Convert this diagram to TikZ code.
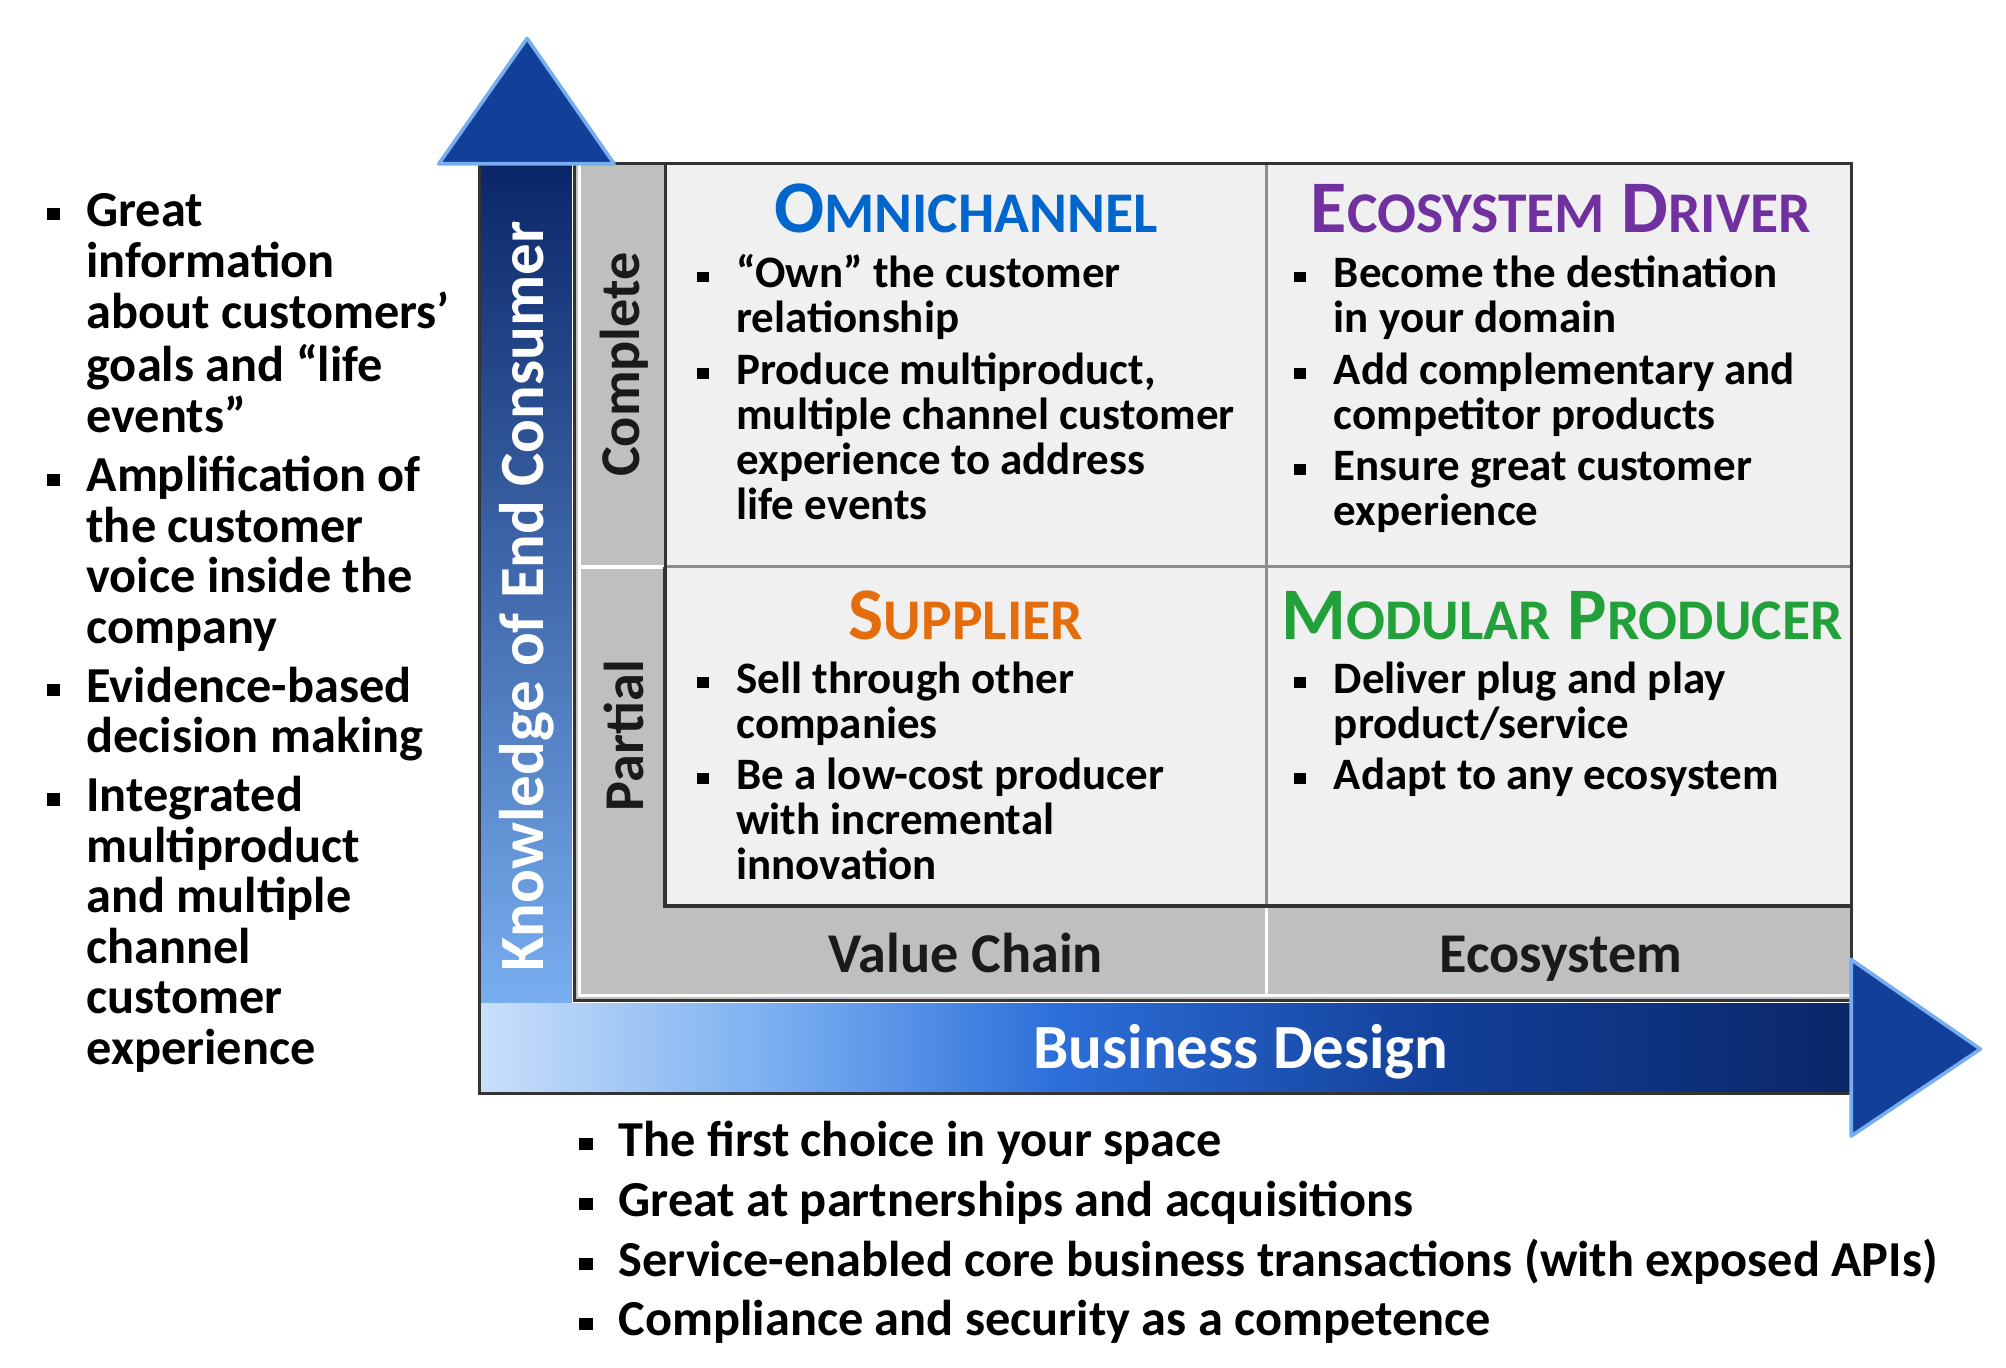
\documentclass[tikz,border=0pt]{standalone}
\usepackage{fontspec}
\setmainfont{Carlito}
\usepackage{xcolor}
\usepackage{tikz}
\usetikzlibrary{calc}
\definecolor{axisnavy}{HTML}{0A2668}
\definecolor{axisdeep}{HTML}{123F98}
\definecolor{axisblue}{HTML}{2D6FDA}
\definecolor{axissky}{HTML}{78AEF0}
\definecolor{axispale}{HTML}{CADFFA}
\definecolor{bandgray}{HTML}{BFBFBF}
\definecolor{cellmist}{HTML}{F0F0F0}
\definecolor{framegray}{HTML}{333333}
\definecolor{rulegray}{HTML}{8C8C8C}
\definecolor{omniblue}{HTML}{0066CC}
\definecolor{driverpurple}{HTML}{7030A0}
\definecolor{supplierorange}{HTML}{E46C0A}
\definecolor{modulargreen}{HTML}{22A03A}
\definecolor{inkgray}{HTML}{1A1A1A}

\pgfdeclarehorizontalshading{designband}{100bp}{color(0bp)=(axispale); color(25bp)=(axispale);
  color(36bp)=(axissky); color(46bp)=(axisblue); color(60bp)=(axisdeep);
  color(75bp)=(axisnavy); color(100bp)=(axisnavy)}

\newcommand{\sqbul}{\raisebox{0.25ex}{\rule{0.55ex}{0.5ex}}}
\newcommand{\capsc}[2]{#1{\fontsize{12.8}{18}\selectfont #2}}

\tikzset{
  quadtitle/.style={anchor=base, inner sep=0pt, font=\fontsize{16.5}{18}\selectfont\bfseries},
  quadlist/.style={anchor=base west, inner sep=0pt, font=\fontsize{10}{10}\selectfont\bfseries},
  sidelist/.style={anchor=base west, inner sep=0pt, font=\fontsize{11.2}{11.24}\selectfont\bfseries},
  footlist/.style={anchor=base west, inner sep=0pt, font=\fontsize{11.2}{13.3}\selectfont\bfseries},
  axislabel/.style={inner sep=0pt, text=white, font=\fontsize{14}{16}\selectfont\bfseries},
  bandlabel/.style={inner sep=0pt, text=inkgray, font=\fontsize{12.5}{14}\selectfont\bfseries},
  axishead/.style={fill=axisdeep, draw=axissky, line width=0.8pt, line join=round}
}

\begin{document}
\begin{tikzpicture}[x=0.1mm, y=-0.1mm]
  \useasboundingbox (0,0) rectangle (1568,1069);

  \fill[bandgray] (450,128) rectangle (1447,781);
  \fill[cellmist] (520,128) rectangle (1447,708);
  \draw[rulegray, line width=0.6pt] (990,128) -- (990,708) (520,443) -- (1447,443);
  \draw[white, line width=0.8pt] (990,708) -- (990,779) (452,443) -- (520,443);
  \draw[white, line width=0.8pt] (453,128) -- (453,778) -- (1447,778);
  \draw[framegray, line width=0.9pt] (520,443) -- (520,708) -- (1447,708);
  \draw[framegray, line width=0.6pt] (520,443) -- (520,128);
  \draw[framegray, line width=0.5pt] (449,128) -- (449,782) -- (1447,782);
  \draw[framegray, line width=0.7pt] (449,128) -- (1447,128) -- (1447,782);

  \shade[top color=axisnavy, middle color=axisblue, bottom color=axissky]
    (375,128) rectangle (447,784);
  \shade[shading=designband] (375,784) rectangle (1447,855);
  \draw[framegray, line width=0.7pt] (375,128) -- (375,855) -- (1447,855);

  \path[axishead] (412,30) -- (480,128) -- (343,128) -- cycle;
  \path[axishead] (1447,750) -- (1548,820) -- (1447,888) -- cycle;

  \node[axislabel, rotate=90] (knowledge) at (412,466) {Knowledge of End Consumer};
  \node[axislabel] (business) at (970,822) {Business Design};

  \node[bandlabel, rotate=90] (complete) at (488,285) {Complete};
  \node[bandlabel, rotate=90] (partial) at (488,575) {Partial};
  \node[bandlabel, anchor=base] (valuechain) at (755,760) {Value Chain};
  \node[bandlabel, anchor=base] (ecosystem) at (1220,760) {Ecosystem};

  \node[quadtitle, text=omniblue] (omnititle) at (755,182) {\capsc{O}{MNICHANNEL}};
  \node[quadtitle, text=driverpurple] (drivertitle) at (1220,182)
    {\capsc{E}{COSYSTEM} \capsc{D}{RIVER}};
  \node[quadtitle, text=supplierorange] (suppliertitle) at (755,500) {\capsc{S}{UPPLIER}};
  \node[quadtitle, text=modulargreen] (modulartitle) at (1221,500)
    {\capsc{M}{ODULAR} \capsc{P}{RODUCER}};

  \node[quadlist] (omnilist) at (544,225) {%
    \begin{tabular}[t]{@{}p{8.8pt}@{}l@{}}
      \sqbul & “Own” the customer\\
             & relationship\\[1.4pt]
      \sqbul & Produce multiproduct,\\
             & multiple channel customer\\
             & experience to address\\
             & life events
    \end{tabular}%
  };
  \node[quadlist] (driverlist) at (1011,225) {%
    \begin{tabular}[t]{@{}p{8.8pt}@{}l@{}}
      \sqbul & Become the destination\\
             & in your domain\\[1.4pt]
      \sqbul & Add complementary and\\
             & competitor products\\[1.4pt]
      \sqbul & Ensure great customer\\
             & experience
    \end{tabular}%
  };
  \node[quadlist] (supplierlist) at (544,542) {%
    \begin{tabular}[t]{@{}p{8.8pt}@{}l@{}}
      \sqbul & Sell through other\\
             & companies\\[1.4pt]
      \sqbul & Be a low-cost producer\\
             & with incremental\\
             & innovation
    \end{tabular}%
  };
  \node[quadlist] (modularlist) at (1011,542) {%
    \begin{tabular}[t]{@{}p{8.8pt}@{}l@{}}
      \sqbul & Deliver plug and play\\
             & product/service\\[1.4pt]
      \sqbul & Adapt to any ecosystem
    \end{tabular}%
  };

  \node[sidelist] (knowledgelist) at (36,177) {%
    \begin{tabular}[t]{@{}p{8.8pt}@{}l@{}}
      \sqbul & Great\\
             & information\\
             & about customers’\\
             & goals and “life\\
             & events”\\[1.85pt]
      \sqbul & Amplification of\\
             & the customer\\
             & voice inside the\\
             & company\\[1.85pt]
      \sqbul & Evidence-based\\
             & decision making\\[1.85pt]
      \sqbul & Integrated\\
             & multiproduct\\
             & and multiple\\
             & channel\\
             & customer\\
             & experience
    \end{tabular}%
  };
  \node[footlist] (designlist) at (452,904) {%
    \begin{tabular}[t]{@{}p{8.8pt}@{}l@{}}
      \sqbul & The first choice in your space\\
      \sqbul & Great at partnerships and acquisitions\\
      \sqbul & Service-enabled core business transactions (with exposed APIs)\\
      \sqbul & Compliance and security as a competence
    \end{tabular}%
  };
\end{tikzpicture}
\end{document}
